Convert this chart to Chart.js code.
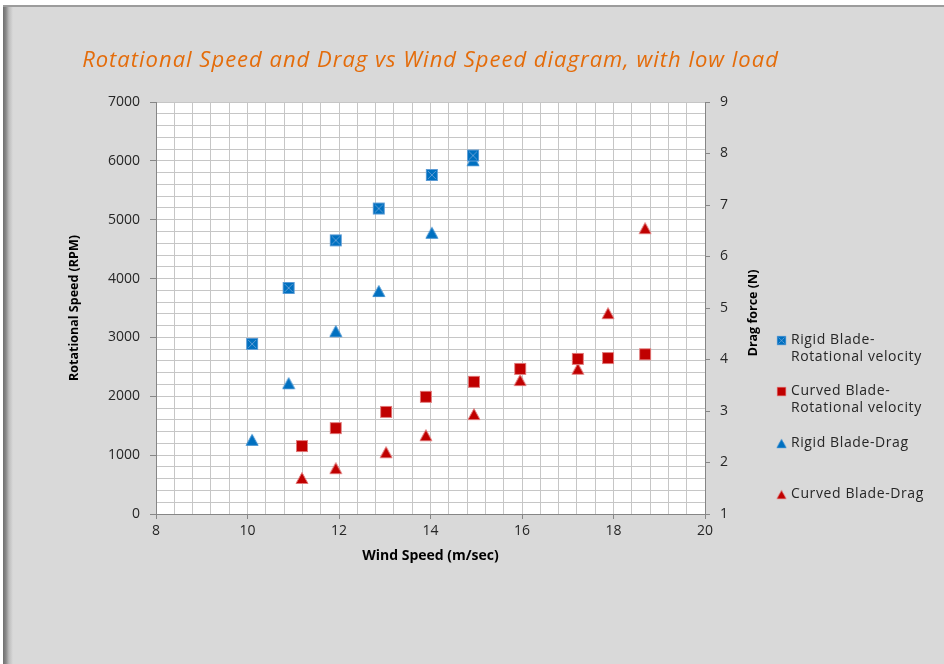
<!DOCTYPE html>
<html>
<head>
<meta charset="utf-8">
<script src="https://cdn.jsdelivr.net/npm/chart.js@4.4.1/dist/chart.umd.min.js"></script>
<style>
  html, body { margin: 0; padding: 0; background: #fff; }
  #frame {
    position: absolute; left: 3px; top: 5px; width: 941px; height: 659px;
    border-top: 2px solid #9c9c9c;
    background: linear-gradient(to right, #6f6f6f 0px, #8a8a8a 3px, #bdbdbd 6px, #d9d9d9 10px, #d9d9d9 100%);
  }
  #chart { position: absolute; left: 0; top: 0; }
</style>
</head>
<body>
<div id="frame"></div>
<canvas id="chart" width="944" height="664"></canvas>
<script>
// wind speed (m/sec)
const windRigid = [10.1, 10.9, 11.93, 12.87, 14.03, 14.93];
const windCurved = [11.19, 11.93, 13.03, 13.9, 14.95, 15.96, 17.22, 17.88, 18.69];

// rotational speed (RPM)
const rpmRigid = [2890, 3840, 4650, 5190, 5760, 6090];
const rpmCurved = [1155, 1460, 1735, 1990, 2245, 2465, 2635, 2650, 2715];

// drag force (N)
const dragRigid = [2.44, 3.54, 4.55, 5.33, 6.46, 7.87];
const dragCurved = [1.7, 1.89, 2.2, 2.53, 2.94, 3.6, 3.82, 4.9, 6.55];

const seriesLabels = [
  ["Rigid Blade-", "Rotational velocity"],
  ["Curved Blade-", "Rotational velocity"],
  ["Rigid Blade-Drag"],
  ["Curved Blade-Drag"]
];

const chartTitle = "Rotational Speed and Drag vs Wind Speed diagram, with low load";
const rightAxisTitle = "Drag force (N)";

const FONT = "'Open Sans', 'Noto Sans', sans-serif";
const BLUE = "#0070c0";
const RED = "#c00000";

function makeMarker(shape, fill, edge, cross) {
  const c = document.createElement("canvas");
  c.width = 14;
  c.height = 14;
  const g = c.getContext("2d");
  g.fillStyle = fill;
  g.strokeStyle = edge;
  g.lineWidth = 1;
  if (shape === "square") {
    g.fillRect(1, 1, 12, 12);
    g.strokeRect(1.5, 1.5, 11, 11);
    if (cross) {
      g.strokeStyle = cross;
      g.beginPath();
      g.moveTo(3, 3); g.lineTo(11, 11);
      g.moveTo(11, 3); g.lineTo(3, 11);
      g.stroke();
    }
  } else {
    g.beginPath();
    g.moveTo(7, 1.5);
    g.lineTo(13, 12.5);
    g.lineTo(1, 12.5);
    g.closePath();
    g.fill();
    g.stroke();
  }
  return c;
}

const markers = [
  makeMarker("square", BLUE, "#5b9bd5", "#5b9bd5"),
  makeMarker("square", RED, "#e07a7a"),
  makeMarker("triangle", BLUE, "#3d8fd0"),
  makeMarker("triangle", RED, "#e07a7a")
];

function pairs(xs, ys) {
  return xs.map((x, i) => ({ x: x, y: ys[i] }));
}

const isMajor = (v, step) => Math.abs(v - step * Math.round(v / step)) < 1e-6;

const plotBackground = {
  id: "plotBackground",
  beforeDraw(chart) {
    const a = chart.chartArea;
    chart.ctx.save();
    chart.ctx.fillStyle = "#ffffff";
    chart.ctx.fillRect(a.left, a.top, a.right - a.left, a.bottom - a.top);
    chart.ctx.restore();
  }
};

// title, right axis title (reads bottom to top) and the side legend
const extraText = {
  id: "extraText",
  afterDraw(chart) {
    const ctx = chart.ctx;
    const a = chart.chartArea;
    ctx.save();
    ctx.letterSpacing = "1px";
    ctx.font = "italic 22px " + FONT;
    ctx.fillStyle = "#e46c0a";
    ctx.textAlign = "center";
    ctx.textBaseline = "middle";
    ctx.fillText(chartTitle, (a.left + a.right) / 2, 61);

    ctx.letterSpacing = "0px";
    ctx.font = "bold 12.5px " + FONT;
    ctx.fillStyle = "#000";
    ctx.translate(chart.scales.y1.right - 7, (a.top + a.bottom) / 2 + 5);
    ctx.rotate(-Math.PI / 2);
    ctx.fillText(rightAxisTitle, 0, 0);
    ctx.restore();

    const rowsY = [340, 391, 443, 494];
    ctx.save();
    ctx.letterSpacing = "0.6px";
    ctx.font = "14px " + FONT;
    ctx.fillStyle = "#262626";
    ctx.textBaseline = "middle";
    chart.data.datasets.forEach((ds, i) => {
      const y = rowsY[i];
      ctx.drawImage(ds.pointStyle, 776, y - 5, 11, 11);
      seriesLabels[i].forEach((t, k) => ctx.fillText(t, 791, y + k * 17.5));
    });
    ctx.restore();
  }
};

new Chart(document.getElementById("chart"), {
  type: "scatter",
  data: {
    datasets: [
      { label: seriesLabels[0].join(""), data: pairs(windRigid, rpmRigid), yAxisID: "y", pointStyle: markers[0] },
      { label: seriesLabels[1].join(""), data: pairs(windCurved, rpmCurved), yAxisID: "y", pointStyle: markers[1] },
      { label: seriesLabels[2].join(""), data: pairs(windRigid, dragRigid), yAxisID: "y1", pointStyle: markers[2] },
      { label: seriesLabels[3].join(""), data: pairs(windCurved, dragCurved), yAxisID: "y1", pointStyle: markers[3] }
    ]
  },
  options: {
    responsive: false,
    animation: false,
    layout: { padding: { left: 67, right: 184, top: 102, bottom: 100 } },
    plugins: {
      legend: { display: false },
      tooltip: { enabled: false },
      title: { display: false }
    },
    scales: {
      x: {
        type: "linear",
        min: 8,
        max: 20,
        afterFit: s => { s.height = 50; },
        border: { color: "#868686" },
        grid: {
          color: "#c6c6c6",
          tickLength: 5,
          tickColor: c => isMajor(c.tick.value, 2) ? "#868686" : "rgba(0,0,0,0)"
        },
        ticks: {
          stepSize: 0.4,
          autoSkip: false,
          maxRotation: 0,
          padding: 4,
          color: "#262626",
          font: { family: FONT, size: 14 },
          callback: v => isMajor(v, 2) ? String(Math.round(v)) : ""
        },
        title: {
          display: true,
          text: "Wind Speed (m/sec)",
          color: "#000",
          padding: 0,
          font: { family: FONT, size: 14, weight: "bold" }
        }
      },
      y: {
        position: "left",
        min: 0,
        max: 7000,
        afterFit: s => { s.width = 89; },
        border: { color: "#868686" },
        grid: {
          color: "#c6c6c6",
          tickLength: 6,
          tickColor: c => isMajor(c.tick.value, 1000) ? "#868686" : "rgba(0,0,0,0)"
        },
        ticks: {
          stepSize: 200,
          autoSkip: false,
          padding: 10,
          color: "#262626",
          font: { family: FONT, size: 14 },
          callback: v => isMajor(v, 1000) ? String(Math.round(v)) : ""
        },
        title: {
          display: true,
          text: "Rotational Speed (RPM)",
          color: "#000",
          padding: 0,
          font: { family: FONT, size: 12.5, weight: "bold" }
        }
      },
      y1: {
        position: "right",
        min: 1,
        max: 9,
        afterFit: s => { s.width = 55; },
        border: { color: "#868686" },
        grid: { drawOnChartArea: false, tickLength: 5, tickColor: "#868686" },
        ticks: {
          stepSize: 1,
          padding: 10,
          color: "#262626",
          font: { family: FONT, size: 14 }
        },
        title: { display: false }
      }
    }
  },
  plugins: [plotBackground, extraText]
});
</script>
</body>
</html>
